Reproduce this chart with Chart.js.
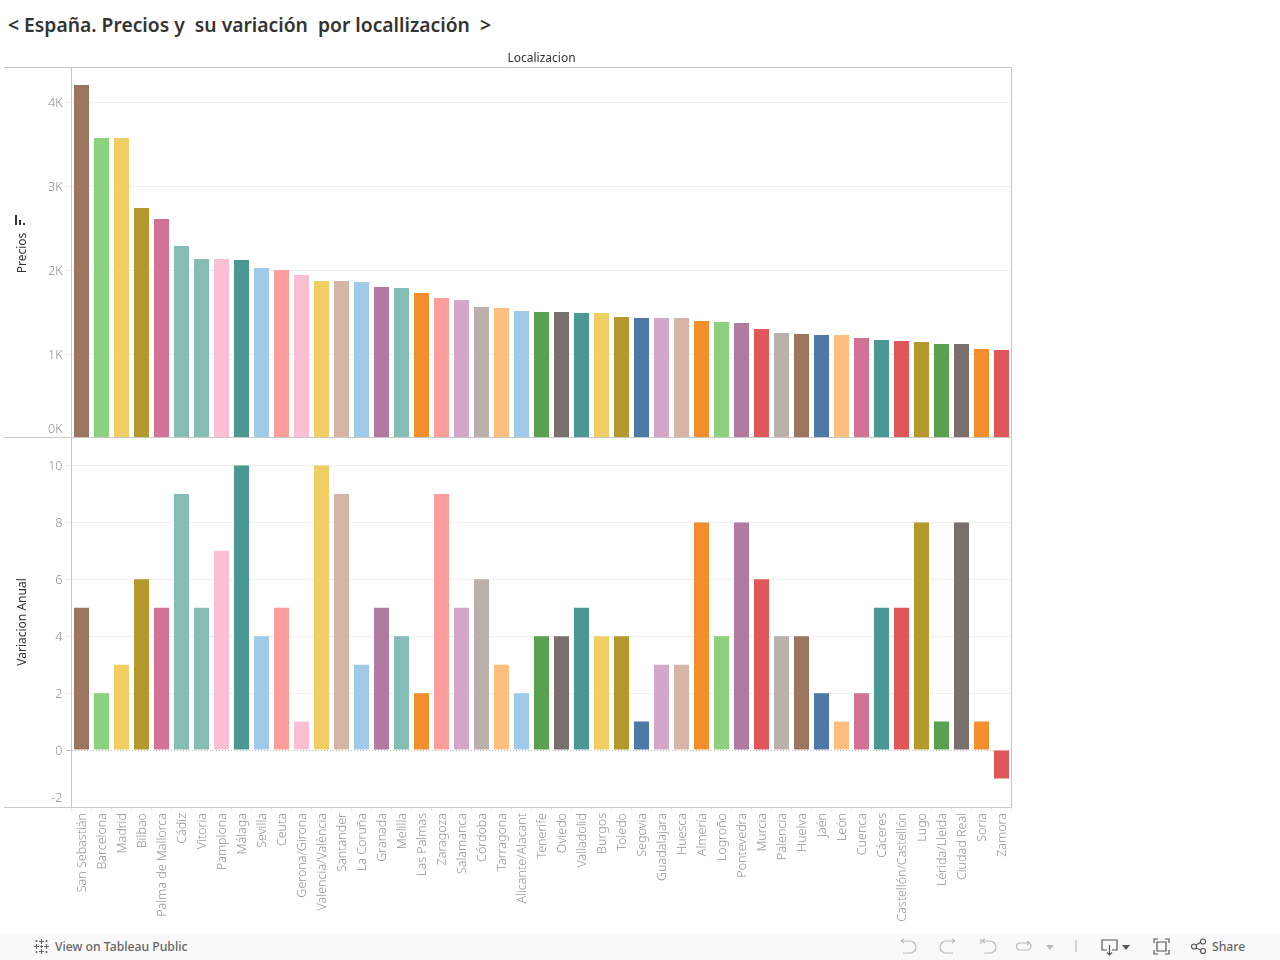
<!DOCTYPE html>
<html>
<head>
<meta charset="utf-8">
<title>España. Precios y su variación por localización</title>
<script src="https://cdn.jsdelivr.net/npm/chart.js@4"></script>
<style>
  html, body { margin: 0; padding: 0; background: #fff; }
  body { width: 1280px; height: 960px; overflow: hidden; position: relative; font-family: "Noto Sans", sans-serif; }
  canvas { position: absolute; left: 0; }
  #title { position: absolute; left: 8px; top: 11px; font-size: 19.3px; font-weight: 600; color: #333; white-space: pre; }
  #sortIcon { position: absolute; left: 15px; top: 215px; }
  #footer { position: absolute; left: 0; top: 933px; width: 1280px; height: 27px; background: #f9f9f9; color: #666; font-size: 12.2px; font-weight: 500; }
  #footer span { position: absolute; top: 5px; }
  #footer svg { position: absolute; top: 5px; fill: none; stroke: #bbb; stroke-width: 1.2; }
</style>
</head>
<body>
<div id="title">&lt; España. Precios y  su variación  por locallización  &gt;</div>
<canvas id="priceChart" width="1012" height="398" style="top:40px"></canvas>
<canvas id="changeChart" width="1012" height="500" style="top:430px"></canvas>
<svg id="sortIcon" width="11" height="11"><path d="M0 0h2v10H0zM4 5h2v5H4zM8 8h2v2H8z" fill="#333"/></svg>
<div id="footer">
  <svg style="left:33px;stroke:#666" width="17" height="17" viewBox="0 0 17 17"><path d="M8.5 1v5M6 3.5h5M8.5 11v5M6 13.5h5M1 8.500h5M3.500 6v5M11 8.500h5M13.500 6v5M7 8.500h3M8.500 7v3M3.500 2v2M2.500 3h2M13.500 2v2M12.500 3h2M3.500 13v2M2.500 14h2M13.500 13v2M12.500 14h2"/></svg>
  <span style="left:55px">View on Tableau Public</span>
  <svg style="left:899px" width="18" height="18" viewBox="0 0 18 18"><path d="M2 3h9a5 5 0 0 1 0 12H4M2 3l3-2M2 3l3 2"/></svg>
  <svg style="left:939px" width="18" height="18" viewBox="0 0 18 18"><path d="M16 3H7a5 5 0 0 0 0 12h7M16 3l-3-2M16 3l-3 2"/></svg>
  <svg style="left:979px" width="18" height="18" viewBox="0 0 18 18"><path d="M2 1v5M3 3h8a5 5 0 0 1 0 12H5M3 3l3-2M3 3l3 2"/></svg>
  <svg style="left:1015px" width="18" height="18" viewBox="0 0 18 18"><path d="M15 5H5a3.500 3.500 0 0 0 0 7h8a3.500 3.500 0 0 0 2-6M15 5l-3-2M15 5l-3 2"/></svg>
  <svg style="left:1046px;stroke:none;fill:#bbb" width="9" height="18" viewBox="0 0 9 18"><path d="M0 7h8l-4 5z"/></svg>
  <svg style="left:1075px" width="2" height="18" viewBox="0 0 2 18"><path d="M1 2v12"/></svg>
  <svg style="left:1101px;stroke:#555" width="18" height="18" viewBox="0 0 18 18"><path d="M6 12H1V2h15v10h-5M8.500 7v10M6 14.500l2.500 2.500 2.500-2.500"/></svg>
  <svg style="left:1122px;stroke:none;fill:#555" width="9" height="18" viewBox="0 0 9 18"><path d="M0 7h8l-4 5z"/></svg>
  <svg style="left:1153px;stroke:#555" width="17" height="18" viewBox="0 0 17 18"><path d="M1 5V1h4M12 1h4v4M16 12v4h-4M5 16H1v-4M4 4h9v9H4z"/></svg>
  <svg style="left:1191px;stroke:#555" width="16" height="18" viewBox="0 0 16 18"><circle cx="3" cy="8.500" r="2.500"/><circle cx="12" cy="3.500" r="2.500"/><circle cx="12" cy="13" r="2.500"/><path d="M5 7l5-3M5 10l5 2"/></svg>
  <span style="left:1212px">Share</span>
</div>
<script>
const cities = ['San Sebastián','Barcelona','Madrid','Bilbao','Palma de Mallorca','Cádiz','Vitoria','Pamplona','Málaga','Sevilla','Ceuta','Gerona/Girona','Valencia/València','Santander','La Coruña','Granada','Melilla','Las Palmas','Zaragoza','Salamanca','Córdoba','Tarragona','Alicante/Alacant','Tenerife','Oviedo','Valladolid','Burgos','Toledo','Segovia','Guadalajara','Huesca','Almería','Logroño','Pontevedra','Murcia','Palencia','Huelva','Jaén','León','Cuenca','Cáceres','Castellón/Castellón','Lugo','Lérida/Lleida','Ciudad Real','Soria','Zamora'];
const precios = [4202,3571,3571,2738,2607,2286,2131,2131,2119,2024,2000,1940,1869,1869,1857,1798,1786,1726,1667,1643,1560,1548,1512,1500,1500,1488,1488,1440,1429,1429,1429,1393,1381,1369,1298,1250,1238,1226,1226,1190,1167,1155,1143,1119,1119,1060,1048];
const variacion = [5,2,3,6,5,9,5,7,10,4,5,1,10,9,3,5,4,2,9,5,6,3,2,4,4,5,4,4,1,3,3,8,4,8,6,4,4,2,1,2,5,5,8,1,8,1,-1];
const precioTicks = [0,1000,2000,3000,4000];
const variacionTicks = [-2,0,2,4,6,8,10];

const brown = '#9c755f', ltGreen = '#8cd17d', yellow = '#f1ce63', olive = '#b6992d', pink = '#d37295',
  ltTeal = '#86bcb6', ltPink = '#fabfd2', teal = '#499894', ltBlue = '#a0cbe8', salmon = '#ff9d9a',
  tan = '#d7b5a6', purple = '#b07aa1', orange = '#f28e2b', lilac = '#d4a6c8', ltGrey = '#bab0ac',
  ltOrange = '#ffbe7d', green = '#59a14f', grey = '#79706e', blue = '#4e79a7', red = '#e15759';
const barColors = [brown,ltGreen,yellow,olive,pink,ltTeal,ltTeal,ltPink,teal,ltBlue,salmon,ltPink,yellow,tan,ltBlue,purple,ltTeal,orange,salmon,lilac,ltGrey,ltOrange,ltBlue,green,grey,teal,yellow,olive,blue,lilac,tan,orange,ltGreen,purple,red,ltGrey,brown,blue,ltOrange,pink,teal,red,olive,green,grey,orange,red];

const fontFamily = '"Noto Sans", sans-serif';
const frameColor = '#c8c8c8';
const tickText = '#8c8c8c';

// tableau pushes the label of the edge tick inside the pane, so this one is drawn by hand
function edgeLabel(text, edgeValue, shift) {
  return {
    id: 'edgeLabel',
    afterDraw(chart) {
      const y = chart.scales.y, c = chart.ctx;
      c.save();
      c.font = '300 12.5px ' + fontFamily;
      c.fillStyle = tickText;
      c.textAlign = 'right';
      c.textBaseline = 'middle';
      c.fillText(text, y.right - 9, y.getPixelForValue(edgeValue) + shift);
      c.restore();
    }
  };
}

const frame = {
  id: 'frame',
  afterDraw(chart) {
    const a = chart.chartArea, c = chart.ctx;
    c.save();
    c.strokeStyle = frameColor;
    c.lineWidth = 1;
    c.beginPath();
    [chart.options.frameTop, chart.options.frameBottom].forEach(function(y) {
      c.moveTo(4, y);
      c.lineTo(a.right, y);
    });
    c.moveTo(a.right, chart.options.frameTop);
    c.lineTo(a.right, chart.options.frameBottom);
    c.stroke();
    c.restore();
  }
};

function yAxis(title, ticks, min, max, edge, format) {
  return {
    min: min,
    max: max,
    afterFit(scale) {
      scale.width = 71.5;
      scale.paddingTop = 0;
      scale.paddingBottom = 0;
    },
    afterBuildTicks(scale) { scale.ticks = ticks.map(function(v) { return { value: v }; }); },
    title: { display: true, text: title, color: '#333', font: { size: 12, family: fontFamily }, padding: { top: 15, bottom: 0 } },
    ticks: {
      padding: 4,
      labelOffset: 1,
      color: tickText,
      font: { size: 12.5, weight: '300', family: fontFamily },
      callback(v) { return v === edge ? '' : format(v); }
    },
    grid: {
      color(ctx) { return ctx.tick && ctx.tick.value === 0 && min < 0 ? '#bbbbbb' : '#f0f0f0'; },
      tickLength: 5
    },
    border: {
      color: frameColor,
      dash(ctx) { return ctx.tick && ctx.tick.value === 0 && min < 0 ? [1, 2] : []; }
    }
  };
}

new Chart(document.getElementById('priceChart').getContext('2d'), {
  type: 'bar',
  data: {
    labels: cities,
    datasets: [{ label: 'Precios', data: precios, backgroundColor: barColors, barPercentage: 0.75, categoryPercentage: 1 }]
  },
  options: {
    responsive: false,
    animation: false,
    frameTop: 27.5,
    frameBottom: 397.5,
    layout: { padding: { right: 0.5 } },
    plugins: { legend: { display: false }, tooltip: { enabled: false } },
    scales: {
      x: {
        position: 'top',
        afterFit(scale) {
          scale.height = 28;
          scale.paddingLeft = 0;
          scale.paddingRight = 0;
        },
        title: { display: true, text: 'Localizacion', color: '#333', font: { size: 12, family: fontFamily }, padding: { top: 11, bottom: 0 } },
        ticks: { display: false },
        grid: { display: false },
        border: { display: false }
      },
      y: yAxis('Precios', precioTicks, 0, 4405, 0, function(v) { return (v / 1000) + 'K'; })
    }
  },
  plugins: [frame, edgeLabel('0K', 0, -8.5)]
});

new Chart(document.getElementById('changeChart').getContext('2d'), {
  type: 'bar',
  data: {
    labels: cities,
    datasets: [{ label: 'Variacion Anual', data: variacion, backgroundColor: barColors, barPercentage: 0.75, categoryPercentage: 1 }]
  },
  options: {
    responsive: false,
    animation: false,
    frameTop: 7.5,
    frameBottom: 377.5,
    layout: { padding: { top: 7, right: 0.5 } },
    plugins: { legend: { display: false }, tooltip: { enabled: false } },
    scales: {
      x: {
        afterFit(scale) {
          scale.height = 123;
          scale.paddingLeft = 0;
          scale.paddingRight = 0;
        },
        ticks: { autoSkip: false, minRotation: 90, maxRotation: 90, padding: 2, labelOffset: 1, color: '#949494', font: { size: 12.5, weight: '300', family: fontFamily } },
        grid: { drawOnChartArea: false, color: '#e6e6e6', tickLength: 4 },
        border: { color: frameColor }
      },
      y: yAxis('Variacion Anual', variacionTicks, -2, 11, -2, function(v) { return String(v); })
    }
  },
  plugins: [frame, edgeLabel('-2', -2, -8.5)]
});
</script>
</body>
</html>
